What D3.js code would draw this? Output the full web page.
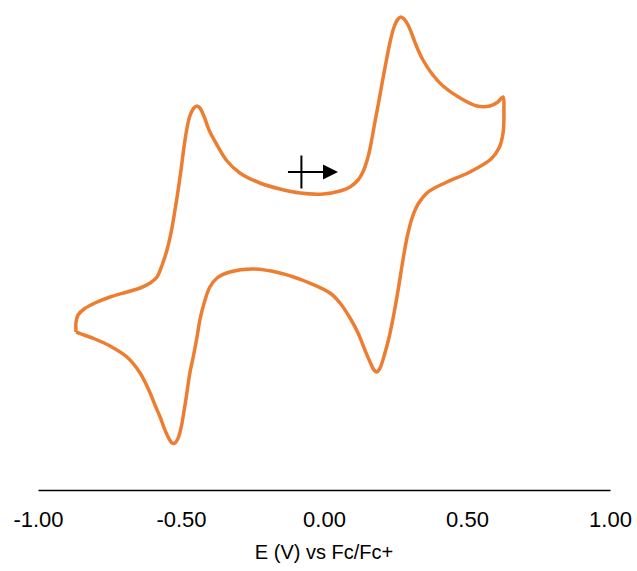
<!DOCTYPE html>
<html><head><meta charset="utf-8">
<script src="https://cdn.jsdelivr.net/npm/d3@7/dist/d3.min.js"></script>
<style>body{margin:0;background:#fff}svg{display:block}</style>
</head><body>
<svg id="chart" width="637" height="571"></svg>
<script>
// Potential (V vs Fc/Fc+) and current (arbitrary units) around the closed CV loop
const potential = [
 -0.867,-0.867,-0.860,-0.839,-0.801,-0.748,-0.689,-0.643,-0.608,-0.584,
 -0.566,-0.549,-0.535,-0.521,-0.510,-0.500,-0.490,-0.479,-0.469,-0.455,
 -0.444,-0.434,-0.420,-0.402,-0.374,-0.339,-0.294,-0.224,-0.154,-0.084,
 -0.003,0.056,0.091,0.119,0.136,0.154,0.168,0.178,0.190,0.202,
 0.217,0.231,0.245,0.259,0.269,0.280,0.294,0.311,0.329,0.346,
 0.378,0.416,0.476,0.535,0.580,0.608,0.626,
 0.629,0.626,0.612,0.584,0.510,0.430,0.364,0.329,0.308,0.290,
 0.276,0.262,0.245,0.227,0.210,0.196,0.185,0.175,0.161,0.143,
 0.119,0.091,0.056,0.021,-0.059,-0.154,-0.248,-0.329,-0.374,-0.399,
 -0.416,-0.434,-0.444,-0.458,-0.469,-0.479,-0.490,-0.500,-0.510,-0.521,
 -0.531,-0.545,-0.559,-0.573,-0.591,-0.608,-0.643,-0.689,-0.748,-0.801,
 -0.839,-0.867
];
const current = [
 -3.2,-2.2,-1.5,-0.9,-0.3,0.3,0.8,1.2,1.7,2.3,
 3.5,5.0,6.7,9.0,11.0,13.0,15.2,17.2,18.4,19.2,
 19.4,19.2,18.4,17.0,15.5,13.9,12.7,11.7,11.1,10.7,
 10.6,10.9,11.3,12.0,12.8,14.3,16.2,17.8,19.6,21.5,
 23.8,25.8,27.3,28.1,28.3,28.1,27.5,26.3,25.0,24.0,
 22.6,21.4,20.2,19.4,19.4,19.8,20.3,
 19.0,16.7,15.2,14.1,12.8,11.8,10.8,9.6,8.2,6.2,
 4.0,1.5,-1.3,-3.8,-5.6,-6.8,-7.2,-7.0,-6.2,-5.0,
 -3.3,-1.8,-0.3,0.7,1.8,2.7,3.1,2.8,2.2,1.3,
 0.0,-2.0,-3.7,-5.8,-7.3,-9.2,-11.2,-12.8,-13.8,-14.3,
 -14.3,-13.7,-12.8,-11.7,-10.5,-9.3,-7.3,-5.7,-4.6,-3.9,
 -3.5,-3.2
];
const tickValues = [-1, -0.5, 0, 0.5, 1];
const tickLabels = ["-1.00", "-0.50", "0.00", "0.50", "1.00"];
const axisTitle = "E (V) vs Fc/Fc+";
// Start-point marker (cross) and sweep-direction arrow
const startE = [-0.079];
const startI = [12.8];
const arrowE = [-0.126, 0.049];
const crossI = [11.15, 14.45];

const svg = d3.select("#chart");
const x = d3.scaleLinear().domain([-1, 1]).range([38, 610]);
const y = d3.scaleLinear().domain([-20, 30]).range([500, 0]);

const cv = potential.map((e, i) => [e, current[i]]);
const line = d3.line().x(d => x(d[0])).y(d => y(d[1])).curve(d3.curveCatmullRom.alpha(0.5));

svg.append("path")
  .attr("d", line(cv))
  .attr("fill", "none")
  .attr("stroke", "#ED7D31")
  .attr("stroke-width", 3.5)
  .attr("stroke-linejoin", "round");

// axis
const axis = d3.axisBottom(x).tickValues(tickValues)
  .tickFormat((d, i) => tickLabels[i]).tickSize(0).tickSizeOuter(0);
const gA = svg.append("g").attr("transform", `translate(0,${y(-19)})`).call(axis);
gA.select(".domain").attr("stroke", "#000").attr("stroke-width", 1.5);
gA.selectAll("text").attr("dy", null).attr("y", 37)
  .attr("font-family", "'Liberation Sans', Arial, sans-serif")
  .attr("font-size", 22).attr("fill", "#000");

svg.append("text")
  .attr("x", x(0)).attr("y", 559)
  .attr("text-anchor", "middle")
  .attr("font-family", "'Liberation Sans', Arial, sans-serif")
  .attr("font-size", 20).attr("fill", "#000")
  .text(axisTitle);

// cross + arrow
const gM = svg.append("g");
gM.append("line")
  .attr("x1", x(startE[0])).attr("x2", x(startE[0]))
  .attr("y1", y(crossI[1])).attr("y2", y(crossI[0]))
  .attr("stroke", "#000").attr("stroke-width", 2);
gM.append("line")
  .attr("x1", x(arrowE[0])).attr("x2", x(arrowE[1]) - 12)
  .attr("y1", y(startI[0])).attr("y2", y(startI[0]))
  .attr("stroke", "#000").attr("stroke-width", 2);
const tipX = x(arrowE[1]), tipY = y(startI[0]);
gM.append("path")
  .attr("d", `M${tipX},${tipY}L${tipX - 15},${tipY - 7.5}L${tipX - 15},${tipY + 7.5}Z`)
  .attr("fill", "#000");
</script>
</body></html>
